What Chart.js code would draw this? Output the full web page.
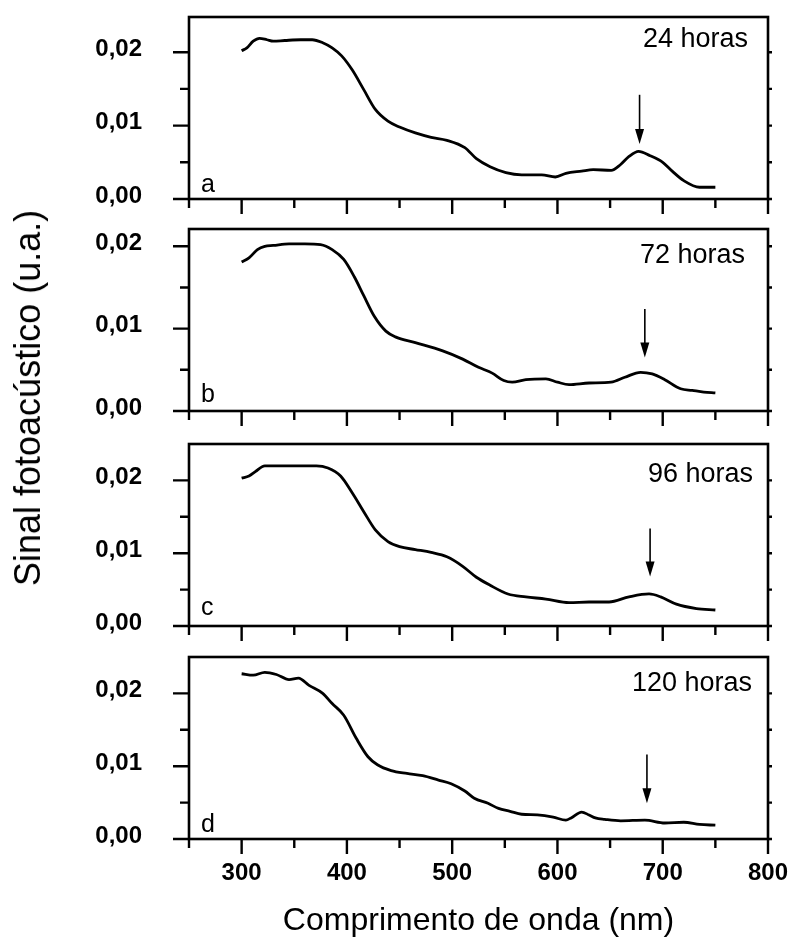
<!DOCTYPE html>
<html>
<head>
<meta charset="utf-8">
<script src="https://cdn.jsdelivr.net/npm/chart.js@4.4.1/dist/chart.umd.min.js"></script>
<style>
body{margin:0;background:#fff;}
#wrap{position:relative;width:792px;height:938px;overflow:hidden;background:#fff;}
#wrap canvas{position:absolute;left:0;}
#ytitle{position:absolute;left:28px;top:398px;transform:translate(-50%,-50%) rotate(-90deg);
  font:36px "Liberation Sans",Arial,sans-serif;line-height:1;white-space:nowrap;color:#000;}
</style>
</head>
<body>
<div id="wrap">
  <canvas id="chart_a"></canvas>
  <canvas id="chart_b"></canvas>
  <canvas id="chart_c"></canvas>
  <canvas id="chart_d"></canvas>
  <div id="ytitle">Sinal fotoacústico (u.a.)</div>
</div>
<script>
/* DATA */
let wave_a=[300,305,311,317,324,330,341,356,367,377,386,395,405,416,427,439,450,465,480,495,512,523,536,551,566,585,598,608,623,634,651,660,668,677,688,700,709,720,735,750];
let sinal_a=[0.0202,0.0206,0.0215,0.0219,0.0217,0.0215,0.0216,0.0217,0.0217,0.0213,0.0206,0.0195,0.0176,0.0149,0.0122,0.0106,0.0098,0.0090,0.0084,0.0080,0.0070,0.0055,0.0044,0.0036,0.0033,0.0033,0.0030,0.0035,0.0038,0.0040,0.0039,0.0047,0.0058,0.0065,0.0059,0.0050,0.0038,0.0025,0.0016,0.0016];

let wave_b=[300,307,315,322,330,345,360,375,386,397,407,416,426,437,446,465,491,510,525,538,549,557,570,589,600,611,630,651,664,679,690,702,717,728,739,750];
let sinal_b=[0.0181,0.0186,0.0196,0.0200,0.0201,0.0203,0.0203,0.0202,0.0196,0.0184,0.0163,0.0140,0.0115,0.0097,0.0090,0.0083,0.0073,0.0063,0.0053,0.0046,0.0037,0.0035,0.0038,0.0039,0.0035,0.0032,0.0034,0.0035,0.0041,0.0047,0.0045,0.0038,0.0027,0.0025,0.0023,0.0022];

let wave_c=[300,307,313,322,337,356,371,382,394,405,416,427,439,450,465,480,495,510,523,536,553,570,589,611,630,649,668,687,698,713,732,750];
let sinal_c=[0.0203,0.0206,0.0212,0.0220,0.0220,0.0220,0.0220,0.0217,0.0206,0.0183,0.0157,0.0132,0.0116,0.0109,0.0105,0.0101,0.0095,0.0082,0.0067,0.0056,0.0044,0.0040,0.0037,0.0032,0.0033,0.0033,0.0040,0.0044,0.0040,0.0030,0.0024,0.0022];

let wave_d=[300,311,322,333,345,354,364,377,386,397,409,420,429,442,457,472,487,499,512,521,534,544,555,566,581,596,608,613,623,630,636,645,660,683,702,720,735,750];
let sinal_d=[0.0227,0.0225,0.0229,0.0226,0.0219,0.0221,0.0211,0.0200,0.0186,0.0170,0.0138,0.0113,0.0102,0.0094,0.0090,0.0087,0.0081,0.0076,0.0066,0.0056,0.0049,0.0042,0.0038,0.0034,0.0033,0.0030,0.0026,0.0029,0.0037,0.0033,0.0029,0.0027,0.0025,0.0026,0.0022,0.0023,0.0020,0.0019];

let panel_letter=["a","b","c","d"];
let panel_horas=["24 horas","72 horas","96 horas","120 horas"];
let y_max=[0.0248,0.0221,0.025,0.025];

// arrows (nm, value at tail, value at tip)
let arrow_nm=[678,683,688,685];
let arrow_top=[0.0142,0.0124,0.0134,0.0116];
let arrow_tip=[0.0075,0.0065,0.0068,0.0049];

let x_ticks=[300,400,500,600,700,800];
let x_minor=[250,350,450,550,650,750];
let y_ticks=[0,0.01,0.02];
let y_minor=[0.005,0.015];

/* LAYOUT */
let panel_top=[17,229,444,657];
let panel_h=182;
let pad_top=25;
let horas_dx=[20,23,15,16];
let horas_dy=[30,34,38,34];
let letter_dy=[7,9,11,7];

const FONT='"Liberation Sans", Arial, sans-serif';

// frame, tick marks, labels and arrows
const framePlugin={
  id:'frame',
  afterDatasetsDraw(chart,args,opts){
    const {ctx,chartArea:a}=chart;
    const x=chart.scales.x, y=chart.scales.y;
    ctx.save();
    ctx.strokeStyle='#000';
    ctx.fillStyle='#000';
    ctx.lineWidth=2.6;
    ctx.strokeRect(a.left,a.top,a.right-a.left,a.bottom-a.top);

    ctx.lineWidth=2.4;
    ctx.beginPath();
    y_ticks.forEach(v=>{
      const py=y.getPixelForValue(v);
      ctx.moveTo(a.left-16,py); ctx.lineTo(a.left,py);
      ctx.moveTo(a.right,py); ctx.lineTo(a.right+4,py);
    });
    y_minor.forEach(v=>{
      const py=y.getPixelForValue(v);
      ctx.moveTo(a.left-9,py); ctx.lineTo(a.left,py);
      ctx.moveTo(a.right,py); ctx.lineTo(a.right+4,py);
    });
    x_ticks.forEach(v=>{
      const px=x.getPixelForValue(v);
      ctx.moveTo(px,a.bottom); ctx.lineTo(px,a.bottom+15);
    });
    x_minor.forEach(v=>{
      const px=x.getPixelForValue(v);
      ctx.moveTo(px,a.bottom); ctx.lineTo(px,a.bottom+9);
    });
    ctx.stroke();

    // arrow
    const ax=x.getPixelForValue(opts.arrowNm);
    const y0=y.getPixelForValue(opts.arrowTop);
    const y1=y.getPixelForValue(opts.arrowTip);
    ctx.lineWidth=1.6;
    ctx.beginPath();
    ctx.moveTo(ax,y0); ctx.lineTo(ax,y1-12);
    ctx.stroke();
    ctx.beginPath();
    ctx.moveTo(ax-4.5,y1-15); ctx.lineTo(ax+4.5,y1-15); ctx.lineTo(ax,y1);
    ctx.closePath(); ctx.fill();

    // texts
    ctx.font='27px '+FONT;
    ctx.textAlign='right'; ctx.textBaseline='alphabetic';
    ctx.fillText(opts.horas,a.right-opts.horasDx,a.top+opts.horasDy);
    ctx.font='25px '+FONT;
    ctx.textAlign='left';
    ctx.fillText(opts.letter,a.left+12,a.bottom-opts.letterDy);
    ctx.restore();
  }
};

function fmt(v){ return v.toFixed(2).replace('.',','); }

function make_chart(id,i,wave,sinal,isBottom){
  const top=panel_top[i]-pad_top;
  const bottomSpace=isBottom?(938-top-pad_top-panel_h):26;
  const cv=document.getElementById(id);
  cv.width=792;
  cv.height=pad_top+panel_h+bottomSpace;
  cv.style.top=top+'px';

  return new Chart(cv.getContext('2d'),{
    type:'line',
    data:{
      datasets:[{
        data:wave.map((w,k)=>({x:w,y:sinal[k]})),
        borderColor:'#000',
        borderWidth:2.8,
        pointRadius:0,
        fill:false,
        cubicInterpolationMode:'monotone'
      }]
    },
    options:{
      responsive:false,
      animation:false,
      devicePixelRatio:1,
      layout:{padding:{top:pad_top,right:24,left:0,bottom:0}},
      plugins:{
        legend:{display:false},
        tooltip:{enabled:false},
        frame:{
          letter:panel_letter[i],horas:panel_horas[i],
          horasDx:horas_dx[i],horasDy:horas_dy[i],letterDy:letter_dy[i],
          arrowNm:arrow_nm[i],arrowTop:arrow_top[i],arrowTip:arrow_tip[i]
        }
      },
      scales:{
        x:{
          type:'linear',min:250,max:800,
          afterBuildTicks:s=>{ s.ticks=x_ticks.map(v=>({value:v})); },
          afterFit:s=>{ s.height=bottomSpace; },
          // invisible tick marks only to push the labels down
          grid:{display:true,drawOnChartArea:false,drawTicks:true,tickLength:20,tickColor:'rgba(0,0,0,0)'},
          border:{display:false},
          ticks:{
            display:isBottom,
            color:'#000',
            padding:0,
            maxRotation:0,
            autoSkip:false,
            font:{family:FONT,size:24,weight:'bold'}
          },
          title:{
            display:isBottom,
            text:'Comprimento de onda (nm)',
            color:'#000',
            font:{family:FONT,size:32,lineHeight:1},
            padding:{top:0,bottom:1}
          }
        },
        y:{
          type:'linear',min:0,max:y_max[i],
          afterBuildTicks:s=>{ s.ticks=y_ticks.map(v=>({value:v})); },
          afterFit:s=>{ s.width=189; },
          grid:{display:true,drawOnChartArea:false,drawTicks:true,tickLength:47,tickColor:'rgba(0,0,0,0)'},
          border:{display:false},
          ticks:{
            color:'#000',
            padding:0,
            labelOffset:-3,
            callback:v=>fmt(v),
            font:{family:FONT,size:24,weight:'bold'}
          }
        }
      }
    },
    plugins:[framePlugin]
  });
}

make_chart('chart_a',0,wave_a,sinal_a,false);
make_chart('chart_b',1,wave_b,sinal_b,false);
make_chart('chart_c',2,wave_c,sinal_c,false);
make_chart('chart_d',3,wave_d,sinal_d,true);
</script>
</body>
</html>
